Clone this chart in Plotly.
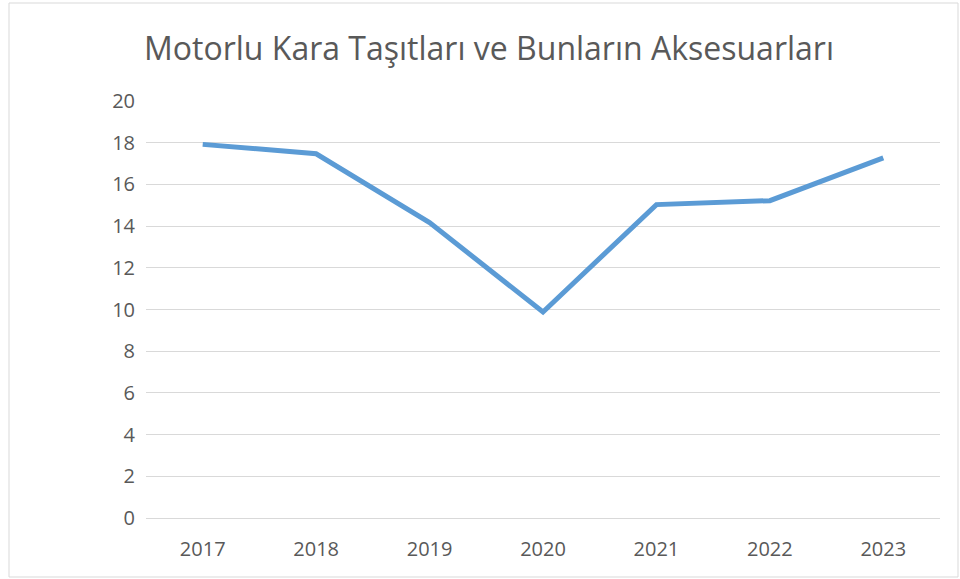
import plotly.graph_objects as go

years = ["2017", "2018", "2019", "2020", "2021", "2022", "2023"]
values = [17.92, 17.47, 14.17, 9.88, 15.03, 15.22, 17.27]
y_ticks = [0, 2, 4, 6, 8, 10, 12, 14, 16, 18, 20]

PW, PH = 794, 417

fig = go.Figure()
fig.add_trace(go.Scatter(
    x=years, y=values, mode="lines",
    line=dict(color="#5B9BD5", width=5),
    hoverinfo="x+y",
))

fig.update_layout(
    width=960, height=579,
    paper_bgcolor="white", plot_bgcolor="white",
    margin=dict(l=146, r=20, t=101, b=61),
    title=dict(
        text="Motorlu Kara Taşıtları ve Bunların Aksesuarları",
        x=489 / 960, xanchor="center", y=1 - 49 / 579, yanchor="middle",
        font=dict(family="Open Sans", size=32, color="#595959"),
    ),
    showlegend=False,
    font=dict(family="Open Sans", size=20, color="#595959"),
    shapes=[dict(type="rect", xref="paper", yref="paper",
                 x0=-137 / PW, x1=1 + 18 / PW, y0=-59 / PH, y1=1 + 98 / PH,
                 line=dict(color="#D9D9D9", width=1), layer="below")],
)
fig.update_xaxes(
    type="category", range=[-0.5, 6.5],
    showgrid=False, showline=True, linecolor="#D9D9D9", linewidth=1,
    ticks="", ticklabelstandoff=13,
    tickfont=dict(size=20, color="#595959"),
)
fig.update_yaxes(
    range=[0, 20], tickvals=y_ticks,
    showgrid=True, gridcolor="#D9D9D9", gridwidth=1,
    zeroline=False, showline=False, ticks="", ticklabelstandoff=10,
    tickfont=dict(size=20, color="#595959"),
)

fig.write_html("out.html", config={"displayModeBar": False},
               post_script="document.body.style.margin='0';")
